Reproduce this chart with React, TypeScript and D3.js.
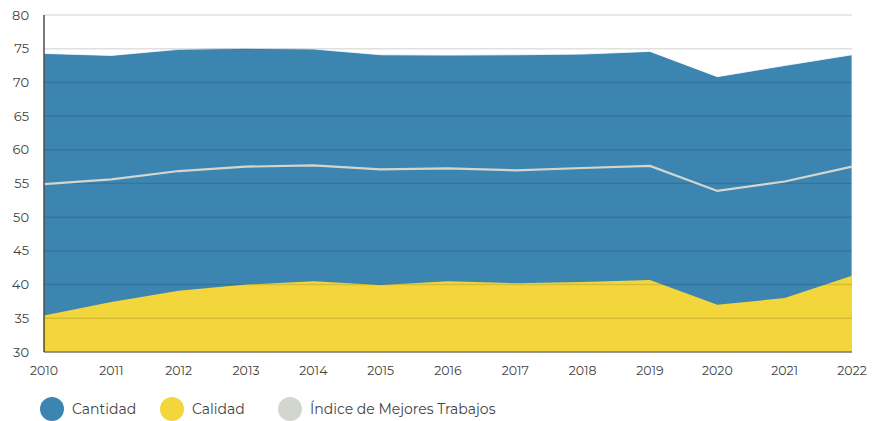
import React from "react";
import * as d3 from "d3";

const years = [2010, 2011, 2012, 2013, 2014, 2015, 2016, 2017, 2018, 2019, 2020, 2021, 2022];
const cantidad = [74.3, 74.0, 74.9, 75.05, 74.95, 74.1, 74.05, 74.1, 74.2, 74.6, 70.85, 72.5, 74.1];
const calidad = [35.4, 37.4, 39.1, 40.0, 40.5, 39.95, 40.5, 40.2, 40.4, 40.7, 37.0, 38.0, 41.3];
const indice = [54.9, 55.6, 56.85, 57.5, 57.7, 57.1, 57.25, 56.95, 57.3, 57.6, 53.9, 55.3, 57.5];
const yTicks = [30, 35, 40, 45, 50, 55, 60, 65, 70, 75, 80];
const legendItems = ["Cantidad", "Calidad", "Índice de Mejores Trabajos"];
const legendColors = ["#3c85b1", "#f3d63b", "#d3d6ce"];

const W = 876;
const H = 421;
const M = { left: 44, right: 24, top: 15, bottom: 69 };

export default function App() {
  const x = d3.scaleLinear().domain([2010, 2022]).range([M.left, W - M.right]);
  const y = d3.scaleLinear().domain([30, 80]).range([H - M.bottom, M.top]);
  const area = (vals: number[]) =>
    d3
      .area<number>()
      .x((_, i) => x(years[i]))
      .y0(y(30))
      .y1((d) => y(d))(vals) as string;
  const line = d3
    .line<number>()
    .x((_, i) => x(years[i]))
    .y((d) => y(d))(indice) as string;
  const font = "Montserrat, 'DejaVu Sans', 'Noto Sans', sans-serif";
  const legendX = [52, 172, 290];
  return (
    <svg width={W} height={H} style={{ position: "absolute", left: 0, top: 0 }} fontFamily={font}>
      <rect width={W} height={H} fill="#fff" />
      <path d={area(cantidad)} fill={legendColors[0]} stroke="#ffffff" strokeWidth={0.8} />
      <path d={area(calidad)} fill={legendColors[1]} />
      {yTicks.slice(1).map((t) => (
        <line key={t} x1={M.left} x2={W - M.right} y1={y(t)} y2={y(t)} stroke="rgba(0,0,0,0.12)" strokeWidth={1.5} />
      ))}
      <path d={line} fill="none" stroke={legendColors[2]} strokeWidth={2.2} />
      <line x1={M.left} x2={W - M.right} y1={y(30)} y2={y(30)} stroke="#7a7a72" strokeWidth={1.5} />
      <line x1={M.left} x2={M.left} y1={M.top} y2={y(30)} stroke="#222" strokeWidth={1.2} />
      {yTicks.map((t) => (
        <text key={t} x={29} y={y(t)} dy="0.35em" textAnchor="end" fontSize={13} fill="#444">
          {t}
        </text>
      ))}
      {years.map((yr) => (
        <text key={yr} x={x(yr)} y={371} dy="0.35em" textAnchor="middle" fontSize={12.5} fill="#444">
          {yr}
        </text>
      ))}
      {legendItems.map((name, i) => (
        <g key={name}>
          <circle cx={legendX[i]} cy={409} r={12} fill={legendColors[i]} />
          <text x={legendX[i] + 20} y={409} dy="0.35em" fontSize={14} fill="#444">
            {name}
          </text>
        </g>
      ))}
    </svg>
  );
}
